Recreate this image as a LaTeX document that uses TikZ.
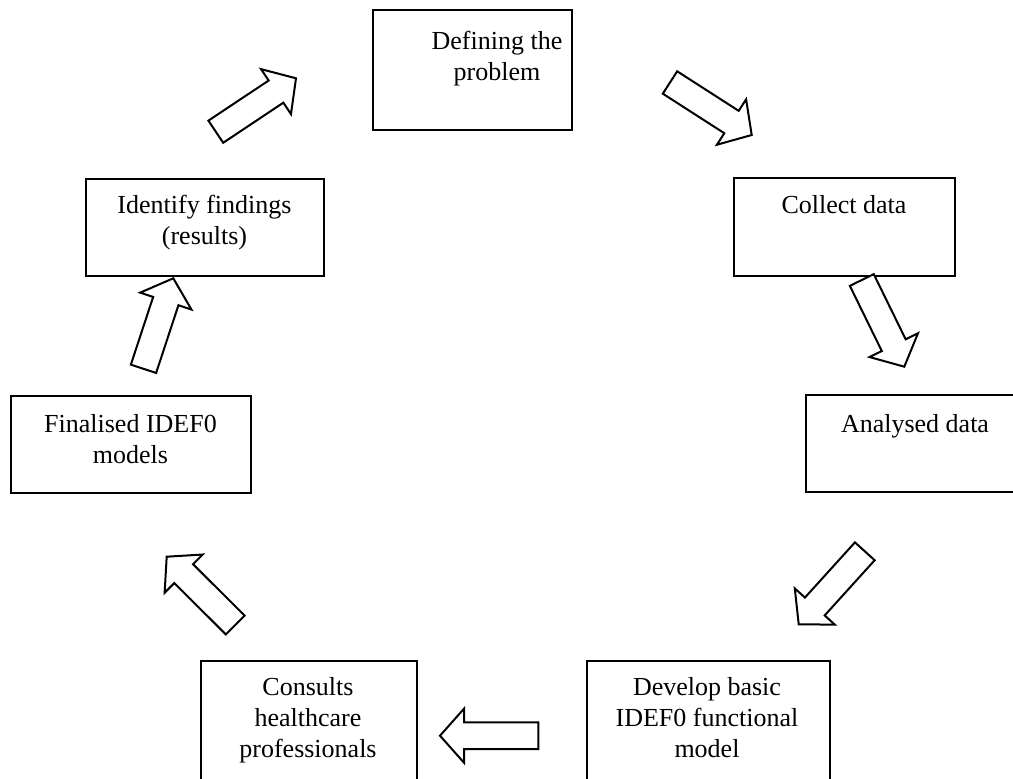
\documentclass[tikz,border=0pt]{standalone}
\usepackage{fontspec}
\setmainfont{Liberation Serif}
\usetikzlibrary{calc}

% outlined block arrow from a tail point #1 to a tip point #2
\newcommand\flowarrow[2]{%
  \coordinate (neck) at ($(#2)!24pt!(#1)$);
  \draw[flowline]
    ($(#1)!13.3pt!90:(#2)$) -- ($(neck)!13.3pt!-90:(#1)$) --
    ($(neck)!27pt!-90:(#1)$) -- (#2) -- ($(neck)!27pt!90:(#1)$) --
    ($(neck)!13.3pt!90:(#1)$) -- ($(#1)!13.3pt!-90:(#2)$) -- cycle;}

\begin{document}
\begin{tikzpicture}[x=1pt,y=-1pt,
  stagebox/.style={draw,line width=2pt,inner sep=0pt,anchor=north west},
  stagetext/.style={align=center,inner sep=0pt,anchor=north,
    font=\fontsize{26}{31}\selectfont},
  flowline/.style={draw,line width=2pt,line join=miter,fill=white}]

\useasboundingbox (0,0) rectangle (1013,779);
\clip (0,0) rectangle (1013,779);

% stage boxes
\node[stagebox,minimum width=199pt,minimum height=120pt] (define) at (372,9) {};
\node[stagebox,minimum width=221pt,minimum height=98pt]  (collect) at (733,177) {};
\node[stagebox,minimum width=220pt,minimum height=97pt]  (analyse) at (805,394) {};
\node[stagebox,minimum width=243pt,minimum height=140pt] (develop) at (586,660) {};
\node[stagebox,minimum width=216pt,minimum height=140pt] (consult) at (200,660) {};
\node[stagebox,minimum width=240pt,minimum height=97pt]  (final) at (10,395) {};
\node[stagebox,minimum width=238pt,minimum height=97pt]  (identify) at (85,178) {};

% stage labels
\node[stagetext] (define-t)   at (497,31)  {Defining the\\problem};
\node[stagetext] (collect-t)  at (844,195) {Collect data};
\node[stagetext] (analyse-t)  at (915,414) {Analysed data};
\node[stagetext] (develop-t)  at (707,677) {Develop basic\\IDEF0 functional\\model};
\node[stagetext] (consult-t)  at (308,677) {Consults\\healthcare\\professionals};
\node[stagetext] (final-t)    at (130.5,414) {Finalised IDEF0\\models};
\node[stagetext] (identify-t) at (204.5,195) {Identify findings\\(results)};

% arrow tails and tips
\coordinate (a1s) at (215.8,131.7); \coordinate (a1e) at (296,78.3);
\coordinate (a2s) at (670,82.5);    \coordinate (a2e) at (751.7,135);
\coordinate (a3s) at (861.8,280);   \coordinate (a3e) at (904.3,366.7);
\coordinate (a4s) at (864.8,551.3); \coordinate (a4e) at (798.7,624.3);
\coordinate (a5s) at (538.3,735.7); \coordinate (a5e) at (440,735.7);
\coordinate (a6s) at (235.2,625);   \coordinate (a6e) at (166.7,556.7);
\coordinate (a7s) at (143.5,368.8); \coordinate (a7e) at (173.3,278.3);

% cycle of block arrows
\flowarrow{a1s}{a1e}
\flowarrow{a2s}{a2e}
\flowarrow{a3s}{a3e}
\flowarrow{a4s}{a4e}
\flowarrow{a5s}{a5e}
\flowarrow{a6s}{a6e}
\flowarrow{a7s}{a7e}
\end{tikzpicture}
\end{document}
